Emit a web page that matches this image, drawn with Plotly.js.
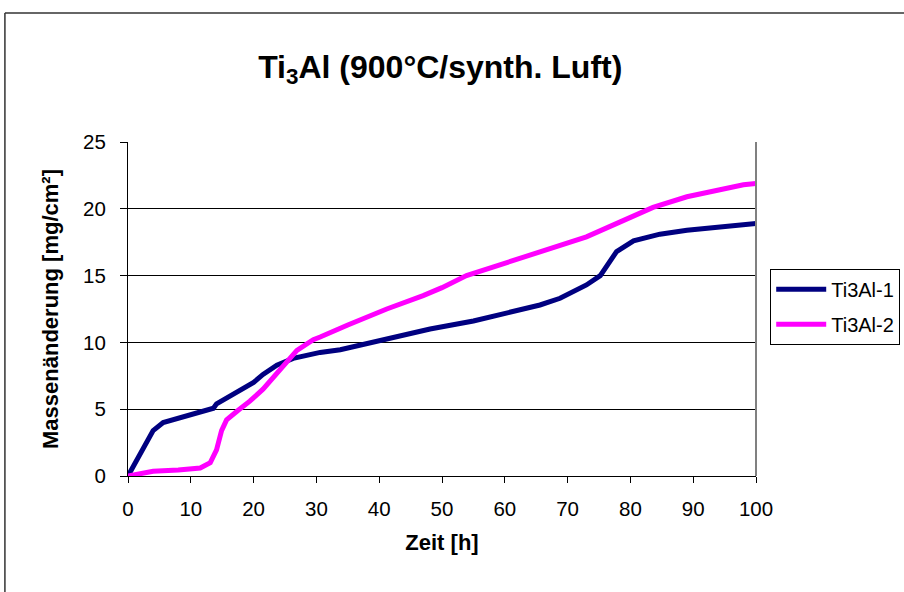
<!DOCTYPE html>
<html>
<head>
<meta charset="utf-8">
<script src="https://cdn.plot.ly/plotly-3.0.1.min.js"></script>
<style>html,body{margin:0;padding:0;background:#fff;}#chart{width:904px;height:592px;}</style>
</head>
<body>
<div id="chart"></div>
<script>
// Ti3Al-1 (navy)
const t1 = [0, 2, 4, 5.6, 8, 10, 12, 13.6, 14.1, 20, 21.5, 23.7, 26.3, 28.5, 30.6, 33.8, 40, 48.1, 55, 60, 62.4, 65.6, 68.8, 73, 75.2, 76.5, 77.8, 80.5, 84.7, 89, 93.2, 98, 100];
const v1 = [0, 1.8, 3.4, 4.0, 4.3, 4.55, 4.8, 5.07, 5.4, 7.0, 7.6, 8.3, 8.8, 9.05, 9.25, 9.45, 10.1, 11.0, 11.6, 12.2, 12.5, 12.8, 13.3, 14.3, 15.0, 15.9, 16.8, 17.6, 18.1, 18.4, 18.6, 18.85, 18.9];
// Ti3Al-2 (magenta)
const t2 = [0, 4, 8, 11.5, 13.1, 14.1, 14.9, 15.7, 17.5, 19.4, 21.5, 24.2, 26.9, 29.5, 30.6, 35, 41.2, 47, 50, 53.9, 60, 65.6, 70, 73, 78.3, 83.6, 89, 93, 98, 100];
const v2 = [0, 0.35, 0.45, 0.6, 1.0, 1.95, 3.4, 4.2, 4.9, 5.6, 6.5, 7.9, 9.4, 10.2, 10.4, 11.3, 12.5, 13.5, 14.1, 15.0, 15.9, 16.8, 17.4, 17.9, 19.0, 20.1, 20.9, 21.3, 21.8, 21.9];
const xTicks = [0,10,20,30,40,50,60,70,80,90,100];
const yTicks = [0,5,10,15,20,25];

const data = [
  {x: t1, y: v1, name: 'Ti3Al-1', legendgroup: 'a', mode: 'lines', line: {color: '#000080', width: 5}},
  {x: t2, y: v2, name: 'Ti3Al-2', legendgroup: 'b', mode: 'lines', line: {color: '#ff00ff', width: 5}}
];
const font = {family: 'Liberation Sans, Arial, sans-serif', color: '#000'};
const layout = {
  width: 904, height: 592,
  margin: {l: 128, r: 148, t: 142, b: 116},
  paper_bgcolor: '#fff', plot_bgcolor: '#fff',
  font: Object.assign({size: 20}, font),
  title: {text: '<b>Ti<sub>3</sub>Al (900°C/synth. Luft)</b>', x: 0.487, xanchor: 'center', y: 0.888, yanchor: 'middle', font: Object.assign({size: 32}, font)},
  showlegend: true,
  legend: {xref: 'container', yref: 'container', x: 0.852, xanchor: 'left', y: 0.546, yanchor: 'top', bordercolor: '#000', borderwidth: 1, bgcolor: '#fff', font: Object.assign({size: 20}, font), tracegroupgap: 6, itemwidth: 50},
  xaxis: {
    range: [0, 100], tickvals: xTicks, ticktext: xTicks.map(String),
    showgrid: false, zeroline: false, showline: true, linecolor: '#000', linewidth: 1,
    ticks: 'outside', ticklen: 6, tickcolor: '#000', ticklabelstandoff: 8,
    title: {text: '<b>Zeit [h]</b>', font: Object.assign({size: 22}, font), standoff: 16},
    tickfont: Object.assign({size: 20.5}, font)
  },
  yaxis: {
    range: [0, 25], tickvals: yTicks, ticktext: yTicks.map(String),
    showgrid: true, gridcolor: '#000', gridwidth: 1, zeroline: false,
    showline: true, linecolor: '#000', linewidth: 1,
    ticks: 'outside', ticklen: 7, tickcolor: '#000', ticklabelstandoff: 10,
    title: {text: '<b>Massenänderung [mg/cm²]</b>', font: Object.assign({size: 22}, font), standoff: 18},
    tickfont: Object.assign({size: 20.5}, font)
  },
  shapes: [
    {type: 'line', xref: 'paper', yref: 'paper', x0: 1, x1: 1, y0: 0, y1: 1, line: {color: '#808080', width: 2}},
    {type: 'line', xref: 'paper', yref: 'paper', x0: -0.196, x1: 1.3, y0: 1.386, y1: 1.386, line: {color: '#333', width: 1.5}},
    {type: 'line', xref: 'paper', yref: 'paper', x0: -0.196, x1: -0.196, y0: 1.386, y1: -0.4, line: {color: '#333', width: 1.5}}
  ]
};
Plotly.newPlot('chart', data, layout, {displayModeBar: false, staticPlot: true});
</script>
</body>
</html>
